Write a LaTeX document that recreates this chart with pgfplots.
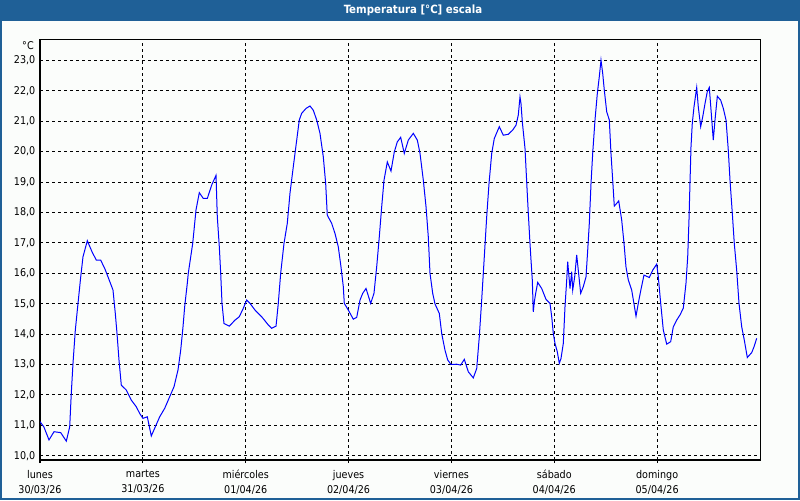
\documentclass[border=0pt]{standalone}
\usepackage{fontspec}
\setmainfont{DejaVu Sans Condensed}
\usepackage{pgfplots}
\pgfplotsset{compat=1.18}
\definecolor{titlebar}{RGB}{31,96,151}
\definecolor{bgc}{RGB}{251,253,251}
\begin{document}
\begin{tikzpicture}
\fill[bgc] (0pt,0pt) rectangle (600pt,375pt);
\begin{axis}[
  at={(30pt,30pt)}, anchor=south west,
  scale only axis, width=540pt, height=315pt,
  xmin=0, xmax=168, ymin=9.86, ymax=23.67,
  xtick={0,24,48,72,96,120,144},
  xticklabels={{lunes\\30/03/26},{martes\\31/03/26},{miércoles\\01/04/26},{jueves\\02/04/26},{viernes\\03/04/26},{sábado\\04/04/26},{domingo\\05/04/26}},
  xticklabel style={align=center, font=\fontsize{8}{11.25}\selectfont, yshift=-2pt},
  ytick={10,11,...,23},
  yticklabel style={font=\fontsize{8}{10}\selectfont, xshift=2.25pt,
    /pgf/number format/.cd, fixed, fixed zerofill, precision=1, use comma},
  /pgf/number format/assume math mode=true,
  tick pos=left,
  tick align=outside,
  major tick length=2.25pt,
  xtick style={black, line width=0.75pt},
  ytick style={draw=none},
  grid=major,
  major grid style={black, line width=0.75pt, dash pattern=on 2.25pt off 2.25pt},
  axis line style={black, line width=0.75pt},
]
\addplot[color={rgb,255:red,0;green,0;blue,255}, line width=0.75pt] coordinates {
(0,11.12)(0.9,10.95)(2.1,10.52)(3.27,10.79)(4.83,10.76)(6.14,10.48)(6.93,10.95)(7.30,12.05)(7.70,13.04)(8.24,14.13)(8.87,15.01)(9.50,15.88)(10.03,16.54)(11.04,17.07)(12.13,16.71)(13.14,16.43)(14.16,16.43)(15.10,16.16)(15.87,15.88)(17.03,15.45)(17.57,14.68)(17.97,14.02)(18.43,13.15)(18.97,12.32)(20.14,12.16)(21.30,11.83)(22.47,11.61)(23.26,11.39)(24.03,11.23)(25.04,11.28)(25.97,10.65)(26.90,10.95)(27.93,11.28)(29.10,11.56)(30.26,11.94)(31.27,12.27)(32.20,12.82)(32.83,13.47)(33.37,14.24)(33.76,14.9)(34.37,15.67)(34.60,16.0)(35.63,16.98)(36.40,18.08)(37.17,18.65)(38.10,18.46)(39.04,18.46)(40.06,18.9)(41.07,19.22)(41.37,17.86)(41.84,16.87)(42.16,16.0)(42.47,15.01)(42.93,14.35)(44.17,14.26)(45.50,14.46)(46.50,14.57)(47.44,14.85)(48.23,15.12)(49.00,15.01)(50.17,14.79)(51.73,14.57)(53.27,14.3)(54.06,14.19)(55.07,14.26)(55.60,15.01)(56.16,16.0)(56.93,16.98)(57.70,17.64)(58.33,18.63)(59.10,19.5)(59.90,20.38)(60.50,21.04)(61.06,21.26)(62.07,21.42)(63.00,21.5)(63.77,21.36)(64.56,21.04)(65.33,20.6)(66.10,19.83)(66.66,18.95)(67.03,17.91)(68.06,17.64)(68.83,17.31)(69.60,16.87)(70.23,16.21)(70.77,15.56)(71.00,15.01)(71.94,14.79)(73.10,14.49)(73.90,14.55)(74.67,15.12)(75.30,15.34)(76.07,15.5)(77.16,15.01)(77.93,15.34)(78.56,16.21)(79.17,17.2)(79.73,18.19)(80.27,19.06)(81.04,19.66)(81.90,19.36)(82.67,19.99)(83.37,20.32)(84.16,20.47)(85.00,19.94)(85.94,20.38)(87.10,20.6)(88.04,20.38)(88.67,19.94)(89.44,19.06)(90.07,18.19)(90.60,17.2)(91.00,16.0)(91.63,15.34)(92.17,14.99)(93.17,14.68)(93.73,14.02)(94.50,13.47)(95.13,13.15)(95.90,13.0)(97.23,13.01)(98.16,12.98)(99.00,13.17)(99.94,12.76)(101.10,12.56)(101.90,12.87)(102.50,13.91)(103.06,15.12)(103.67,16.54)(104.23,17.86)(104.77,18.95)(105.40,19.94)(106.00,20.43)(107.17,20.82)(108.10,20.54)(109.27,20.57)(110.30,20.71)(111.07,20.87)(111.60,21.2)(112.00,21.8)(112.23,21.58)(112.54,20.98)(113.17,20.1)(113.56,19.0)(113.94,17.97)(114.33,16.98)(114.57,16.43)(114.87,15.78)(115.10,14.73)(115.34,15.06)(115.66,15.34)(116.13,15.7)(117.06,15.5)(118.07,15.14)(119.00,15.01)(119.40,14.57)(119.77,14.02)(120.17,13.69)(120.70,13.42)(121.17,13.04)(121.57,13.2)(122.10,13.69)(122.50,14.9)(122.90,15.78)(123.13,16.38)(123.36,16.0)(123.67,15.5)(124.06,16.05)(124.30,15.45)(124.76,15.88)(125.23,16.6)(125.60,16.1)(126.16,15.34)(126.77,15.56)(127.40,15.88)(127.80,16.76)(128.17,17.64)(128.57,18.95)(128.96,19.94)(129.50,21.04)(130.04,21.91)(130.50,22.46)(130.90,23.01)(131.30,22.57)(131.67,22.02)(132.23,21.31)(132.84,21.04)(133.23,19.94)(133.63,19.06)(134.00,18.21)(134.40,18.27)(135.03,18.38)(135.73,17.75)(136.27,16.98)(136.73,16.21)(137.27,15.78)(138.06,15.45)(139.07,14.59)(139.60,15.01)(140.20,15.45)(140.93,15.94)(142.17,15.86)(142.96,16.1)(143.90,16.3)(144.27,15.88)(144.83,15.01)(145.44,14.13)(146.23,13.67)(147.16,13.75)(147.77,14.24)(148.56,14.46)(149.33,14.63)(150.10,14.85)(150.73,15.67)(151.13,16.54)(151.43,17.75)(151.66,18.95)(151.90,20.16)(152.20,20.93)(152.60,21.47)(153.23,22.11)(153.60,21.47)(154.16,20.82)(154.63,21.14)(155.17,21.58)(155.70,21.97)(156.17,22.11)(156.63,21.26)(157.10,20.38)(157.50,21.04)(158.04,21.82)(158.83,21.69)(159.44,21.42)(160.07,21.04)(160.60,20.05)(161.00,19.06)(161.54,17.97)(162.00,16.98)(162.56,16.1)(163.10,15.01)(163.73,14.24)(164.34,13.8)(165.04,13.23)(166.06,13.39)(166.60,13.58)(167.23,13.86)
};
\end{axis}
\fill[titlebar] (0pt,359.6pt) rectangle (600pt,375pt);
\draw[titlebar, line width=1.5pt] (0.75pt,1.1pt) rectangle (599.25pt,374.25pt);
\node[text=white, font=\fontsize{8.5}{10}\selectfont\bfseries] at (309.75pt,367.2pt) {Temperatura [°C] escala};
\node[anchor=east, inner sep=0pt, font=\fontsize{8}{10}\selectfont] at (25.5pt,340.5pt) {°C};
\pgfresetboundingbox
\path[use as bounding box] (0pt,0pt) rectangle (600pt,375pt);
\end{tikzpicture}
\end{document}
